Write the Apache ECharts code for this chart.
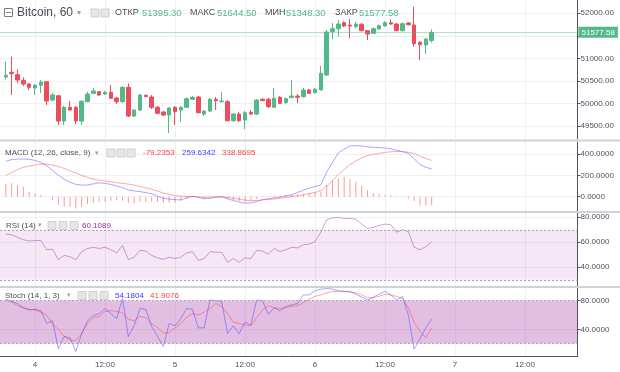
<!DOCTYPE html>
<html><head><meta charset="utf-8">
<script src="https://cdn.jsdelivr.net/npm/echarts@6.0.0/dist/echarts.min.js"></script>
<style>html,body{margin:0;padding:0;background:#fff}#c{width:620px;height:372px}</style>
</head><body><div id="c"></div>
<script>
// ---- axis slots (hourly) ----
const startDay = 3, startHour = 18, slotCount = 100;
const categories = [];
for (let k = 0; k < slotCount; k++) {
  const h = startHour + k;
  categories.push((startDay + Math.floor(h / 24)) + ' ' + String(h % 24).padStart(2, '0') + ':00');
}
// ---- Bitcoin 60 min candles (from day 3 19:00) ----
const opens = [50586,50690,50637,50513,50430,50342,50402,50481,50075,50171,49609,49913,49913,49609,50038,50224,50260,50209,50246,50120,50038,50357,49720,49853,50180,50142,49913,49809,49742,49913,49853,49913,50091,50142,49764,49831,50091,50038,50038,49616,49764,49631,49802,49764,50091,50091,49913,50135,50016,50126,50164,50149,50297,50238,50297,50630,51592,51658,51791,51740,51703,51756,51614,51556,51651,51718,51791,51762,51614,51785,51740,51356,51296,51395.30];
const closes = [50624,50659,50519,50430,50357,50402,50475,50053,50186,49609,49913,49853,49609,50047,50209,50275,50186,50246,50113,50038,50357,49720,49853,50186,50149,49913,49780,49742,49898,49816,49913,50104,50135,49793,49831,50091,50060,50053,49616,49764,49616,49793,49764,50075,50060,49927,50113,50002,50104,50164,50135,50297,50224,50313,50668,51585,51658,51762,51718,51718,51762,51614,51540,51658,51725,51791,51762,51614,51769,51747,51325,51303,51429,51577.58];
const lows = [50535,50186,50446,50386,50297,50186,50231,49964,50042,49520,49520,49831,49542,49520,50031,50209,50164,50186,50098,49986,50009,49698,49698,49831,50142,49876,49764,49720,49342,49520,49593,49898,50075,49776,49720,49809,49853,50020,49598,49587,49587,49432,49742,49742,50053,49898,49898,49986,49998,50120,50010,50131,50209,50220,50286,50608,51429,51481,51696,51445,51674,51596,51407,51540,51640,51707,51740,51607,51596,51729,51259,50963,51096,51348.30];
const highs = [50925,51037,50757,50579,50453,50430,50519,50497,50231,50186,49942,50053,49942,50075,50260,50348,50275,50275,50408,50142,50386,50446,49875,50209,50197,50186,49942,49831,49920,49942,49942,50131,50164,50164,49853,50120,50142,50253,50075,49787,49809,49831,49853,50098,50120,50120,50342,50164,50131,50519,50209,50342,50320,50342,50830,51630,51785,51851,51818,51873,51807,51785,51629,51685,51751,51829,51862,51785,51796,51807,52147,51385,51452,51644.50];
const lastClose = 51577.58;
// ---- MACD (12, 26, close, 9) ----
const macdLine = [330,348,352,352,350,340,320,290,245,200,165,135,115,108,110,120,130,125,115,100,85,62,55,47,38,28,5,-15,-22,-28,-30,-12,5,-5,-20,-15,-5,-2,-20,-35,-50,-60,-58,-45,-28,-20,-10,-5,8,16,40,60,79,95,110,230,320,410,445,475,478,475,467,462,460,456,448,435,422,405,355,300,275,259.6342];
const macdSignal = [200,225,255,275,287,297,305,305,296,282,265,243,222,200,180,165,155,147,140,132,125,118,108,96,83,70,52,35,22,10,5,2,0,-3,-5,-4,-1,0,-6,-14,-24,-32,-37,-36,-30,-26,-22,-15,-8,0,8,18,30,40,55,100,150,210,255,300,335,362,385,398,405,415,420,423,422,416,405,378,358,338.8695];
const macdHist = [118,125,110,94,47,31,16,0,-31,-78,-94,-94,-110,-94,-69,-56,-47,-47,-38,-31,-38,-56,-63,-47,-50,-47,-47,-56,-56,-56,-38,-16,-6,-6,-16,-6,-3,-8,-20,-31,-40,-47,-38,-22,-8,4,10,12,15,18,22,28,32,38,47,110,150,171,187,160,141,100,60,35,25,18,10,5,0,-20,-40,-84,-84,-79.2353];
// ---- RSI (14) ----
const rsi = [66.5,66,64,62,61,61.3,61.5,54,54.5,46,49.5,48.5,46,52.5,55,56,55,56,54,51.5,57.5,46,48,53.5,53,49.5,47.5,46.5,48,47,48,51.5,52.5,45.5,47,52.5,52,52,44,47,44,47.5,47,53.5,53,50.5,55,52.5,54,56,55.5,58,58.5,60.5,68,78,79.5,80,79,79,78.5,74.5,71,72,73.5,74.5,74,68,70,68.5,56,54,56.5,60.1089];
// ---- Stoch (14, 1, 3) ----
const stochK = [82,79,76,70,67,68,66,48,52,13,30,28,9,34,52,59,62,69,62,55,83,30,45,69,68,44,30,16,48,45,55,69,68,42,42,81,80,79,34,45,34,50,46,81,80,61,70,66,72,74,76,88,88,94,96,97,96,94,93,93,89,85,81,85,89,93,88,81,86,60,12,27,42,54.1804];
const stochD = [81,78,73,70,68,67,64,60,47,40,30,25,24,34,48,56,58,65,66,65,63,54,52,58,56,48,42,35,35,42,48,57,62,60,64,69,76,72,62,50,48,46,45,56,67,73,70,69,70,72,73,77,82,86,88,91,93,93,93,92,91,88,84,84,86,89,88,86,83,70,50,37,28,41.9076];
// ---- tick values ----
const priceTicks = [49500,50000,50500,51000,51500,52000];
const priceLabels = [49500,50000,50500,51000,52000];
const macdTicks = [0,200,400];
const rsiTicks = [40,60,80];
const rsiBand = [30,70];
const stochTicks = [40,80];
const stochBand = [20,80];

const FONT = '"Liberation Sans", Arial, sans-serif';
const UP = '#53b987', DOWN = '#eb4d5c';
const pad = arr => ['-'].concat(arr);
const candleData = [['-','-','-','-']].concat(opens.map((o, i) => [o, closes[i], lows[i], highs[i]]));

const isMajor = (i, v) => { const hh = String(v).split(' ')[1]; return hh === '00:00' || hh === '12:00'; };
const xFmt = v => { const p = String(v).split(' '); return p[1] === '00:00' ? p[0] : p[1]; };

function xAx(gi, show) {
  return {
    type: 'category', gridIndex: gi, data: categories, boundaryGap: false,
    axisLine: { show: show, lineStyle: { color: '#50535e', width: 1 } },
    axisTick: { show: false },
    axisLabel: { show: show, interval: isMajor, formatter: xFmt, color: '#4c525e', fontSize: 8, fontFamily: FONT, margin: 5 },
    splitLine: { show: true, interval: isMajor, lineStyle: { color: '#eef1f4', width: 1 } }
  };
}
function yAx(gi, min, max, ticks, labels, digits) {
  return {
    type: 'value', gridIndex: gi, position: 'right', min: min, max: max,
    axisLine: { show: true, lineStyle: { color: '#50535e', width: 1 } },
    axisTick: { show: true, length: 3, customValues: ticks, lineStyle: { color: '#50535e' } },
    axisLabel: { customValues: labels, color: '#4c525e', fontSize: 8, fontFamily: FONT, margin: 3, formatter: v => Number(v).toFixed(digits) },
    splitLine: { show: true, lineStyle: { color: '#eef1f4', width: 1 } }
  };
}
function txt(x, y, s, color, size) {
  return { type: 'text', x: x, y: y, z: 100, silent: true,
    style: { text: s, fill: color, font: size + 'px ' + FONT, verticalAlign: 'middle' } };
}
function box(x, y) {
  return { type: 'rect', z: 100, silent: true, shape: { x: x, y: y, width: 8, height: 8 },
    style: { fill: '#e6e6e6', stroke: '#d0d0d0', lineWidth: 1 } };
}
function sep(y) {
  return { type: 'rect', z: 100, silent: true, shape: { x: 0, y: y, width: 620, height: 2 }, style: { fill: '#cfd2d7' } };
}
const LBL = '#4a4e58';

const option = {
  animation: false,
  backgroundColor: '#fff',
  grid: [
    { left: 0, right: 42.5, top: 0, height: 139 },
    { left: 0, right: 42.5, top: 142, height: 69 },
    { left: 0, right: 42.5, top: 213, height: 73 },
    { left: 0, right: 42.5, top: 288, height: 68 }
  ],
  xAxis: [xAx(0, false), xAx(1, false), xAx(2, false), xAx(3, true)],
  yAxis: [
    yAx(0, 49210, 52295, priceTicks, priceLabels, 2),
    yAx(1, -134, 512, macdTicks, macdTicks, 4),
    yAx(2, 25, 83.4, rsiTicks, rsiTicks, 4),
    yAx(3, 2.7, 97.7, stochTicks, stochTicks, 4)
  ],
  series: [
    { type: 'candlestick', xAxisIndex: 0, yAxisIndex: 0, data: candleData, barWidth: 4,
      itemStyle: { color: UP, color0: DOWN, borderColor: UP, borderColor0: DOWN, borderWidth: 1 },
      markLine: { silent: true, symbol: ['none', 'none'], data: [{ yAxis: lastClose }],
        lineStyle: { color: 'rgba(83,185,135,0.45)', width: 1, type: 'solid' },
        label: { show: true, position: 'end', distance: 1, formatter: lastClose.toFixed(2),
          backgroundColor: UP, color: '#fff', fontSize: 8, fontFamily: FONT, padding: [2, 3, 1, 3] } } },
    { type: 'bar', xAxisIndex: 1, yAxisIndex: 1, data: pad(macdHist), barWidth: 1,
      itemStyle: { color: 'rgba(255,70,70,0.55)' } },
    { type: 'line', xAxisIndex: 1, yAxisIndex: 1, data: pad(macdLine), symbol: 'none',
      lineStyle: { color: 'rgba(60,60,255,0.45)', width: 1 } },
    { type: 'line', xAxisIndex: 1, yAxisIndex: 1, data: pad(macdSignal), symbol: 'none',
      lineStyle: { color: 'rgba(255,60,60,0.45)', width: 1 } },
    { type: 'line', xAxisIndex: 2, yAxisIndex: 2, data: pad(rsi), symbol: 'none',
      lineStyle: { color: 'rgba(153,21,153,0.4)', width: 1 },
      markArea: { silent: true, itemStyle: { color: 'rgba(153,21,153,0.1)' }, data: [[{ yAxis: rsiBand[0] }, { yAxis: rsiBand[1] }]] },
      markLine: { silent: true, symbol: ['none', 'none'], label: { show: false },
        lineStyle: { color: '#a9a9b0', type: [2, 2], width: 1 }, data: [{ yAxis: rsiBand[0] }, { yAxis: rsiBand[1] }] } },
    { type: 'line', xAxisIndex: 3, yAxisIndex: 3, data: pad(stochD), symbol: 'none',
      lineStyle: { color: 'rgba(255,60,60,0.45)', width: 1 },
      markArea: { silent: true, itemStyle: { color: 'rgba(153,21,153,0.28)' }, data: [[{ yAxis: stochBand[0] }, { yAxis: stochBand[1] }]] },
      markLine: { silent: true, symbol: ['none', 'none'], label: { show: false },
        lineStyle: { color: '#a9a9b0', type: [2, 2], width: 1 }, data: [{ yAxis: stochBand[0] }, { yAxis: stochBand[1] }] } },
    { type: 'line', xAxisIndex: 3, yAxisIndex: 3, data: pad(stochK), symbol: 'none',
      lineStyle: { color: 'rgba(60,60,255,0.45)', width: 1 } }
  ],
  graphic: [
    sep(139.5), sep(211), sep(286),
    { type: 'rect', z: 100, silent: true, shape: { x: 4.5, y: 8.5, width: 8, height: 8 }, style: { fill: '#fff', stroke: '#7a7e88', lineWidth: 1 } },
    { type: 'line', z: 101, silent: true, shape: { x1: 6, y1: 12.5, x2: 11, y2: 12.5 }, style: { stroke: '#7a7e88', lineWidth: 1 } },
    txt(17, 13, 'Bitcoin, 60', LBL, 12),
    txt(77, 13, '▾', '#9a9ea8', 8),
    box(91, 9), box(101, 9),
    txt(115, 13, 'ОТКР', LBL, 9), txt(142, 13, '51395.30', UP, 9.5),
    txt(190, 13, 'МАКС', LBL, 9), txt(217, 13, '51644.50', UP, 9.5),
    txt(265, 13, 'МИН', LBL, 9), txt(286, 13, '51348.30', UP, 9.5),
    txt(335, 13, 'ЗАКР', LBL, 9), txt(359, 13, '51577.58', UP, 9.5),

    txt(5, 153, 'MACD (12, 26, close, 9)', LBL, 8), txt(95, 153, '▾', '#9a9ea8', 7),
    box(107, 149), box(117, 149), box(127, 149),
    txt(143, 153, '-79.2353', '#ff3b3b', 8), txt(182, 153, '259.6342', '#3b3bff', 8), txt(222, 153, '338.8695', '#ff3b3b', 8),

    txt(6, 225.5, 'RSI (14)', LBL, 8), txt(38, 225.5, '▾', '#9a9ea8', 7),
    box(48, 221.5), box(59, 221.5), box(70, 221.5),
    txt(82, 225.5, '60.1089', '#9c27b0', 8),

    txt(5, 295.5, 'Stoch (14, 1, 3)', LBL, 8), txt(67, 295.5, '▾', '#9a9ea8', 7),
    box(78, 291.5), box(89, 291.5), box(100, 291.5),
    txt(115, 295.5, '54.1804', '#3b3bff', 8), txt(150, 295.5, '41.9076', '#ff3b3b', 8)
  ]
};
echarts.init(document.getElementById('c'), null, { renderer: 'canvas' }).setOption(option);
</script>
</body></html>
